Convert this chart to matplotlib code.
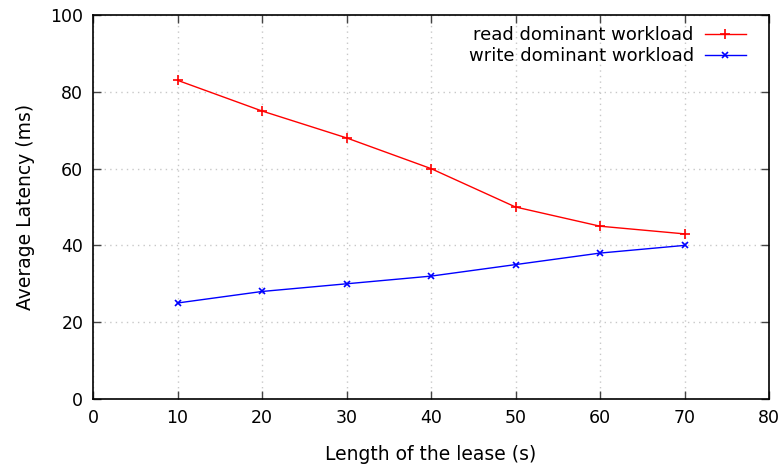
import matplotlib
matplotlib.use('Agg')
import matplotlib.pyplot as plt

lease = [10, 20, 30, 40, 50, 60, 70]
readLatency = [83, 75, 68, 60, 50, 45, 43]
writeLatency = [25, 28, 30, 32, 35, 38, 40]

plt.rcParams['font.family'] = ['DejaVu Sans']
plt.rcParams['font.size'] = 12.5

fig = plt.figure(figsize=(7.84, 4.72), dpi=100)
ax = fig.add_axes([93 / 784, 1 - 399 / 472, 676 / 784, 384 / 472])

ax.plot(lease, readLatency, '-', color='red', marker='+', markersize=7,
        markeredgewidth=1.2, linewidth=1, label='read dominant workload')
ax.plot(lease, writeLatency, '-', color='blue', marker='x', markersize=5,
        markeredgewidth=1.2, linewidth=1, label='write dominant workload')

ax.set_xlim(0, 80)
ax.set_ylim(0, 100)
ax.set_xticks(range(0, 81, 10))
ax.set_yticks(range(0, 101, 20))
ax.tick_params(direction='in', top=True, right=True, length=6, width=1,
               color='#444444', pad=7)
ax.grid(True, color='#c8c8c8', linestyle=(0, (1, 3)), linewidth=1)
for s in ax.spines.values():
    s.set_linewidth(1.2)

ax.set_xlabel('Length of the lease (s)', labelpad=13, fontsize=13.5)
ax.set_ylabel('Average Latency (ms)', labelpad=11, fontsize=13.5)

leg = ax.legend(loc='upper right', bbox_to_anchor=(1 - 12 / 676, 1),
                frameon=False, markerfirst=False, handlelength=2.3,
                handletextpad=0.6, borderaxespad=0.2, labelspacing=0.2,
                fontsize=13)
for t in leg.get_texts():
    t.set_ha('right')

fig.savefig('out.png', dpi=100)
